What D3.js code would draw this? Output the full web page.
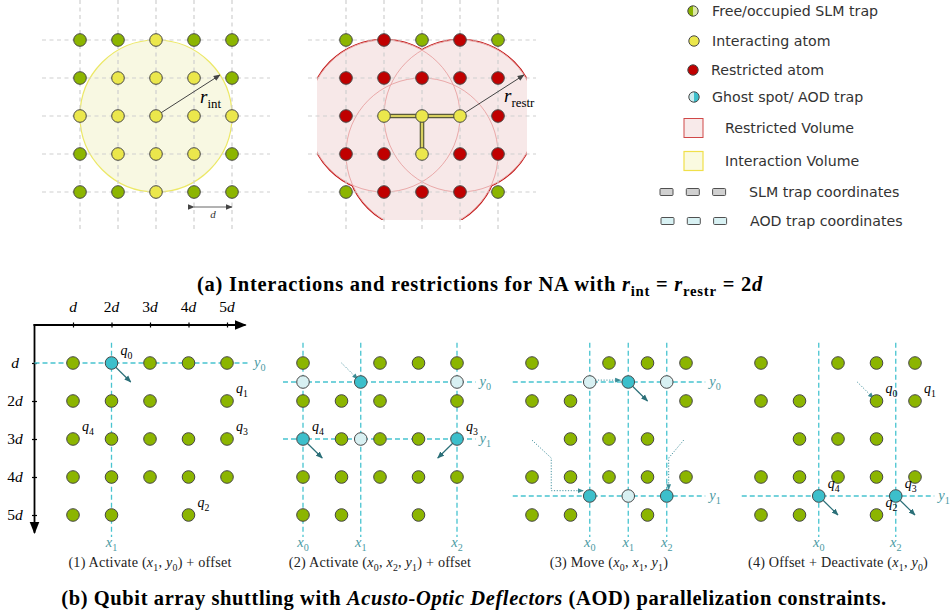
<!DOCTYPE html>
<html><head><meta charset="utf-8">
<script src="https://cdn.jsdelivr.net/npm/d3@7"></script>
<style>body{margin:0;background:#fff}svg{display:block}</style>
</head><body><svg id="c" width="951" height="615"></svg>
<script>
// ---------------- DATA ----------------
// (a) lattice states: G = free/occupied SLM trap, Y = interacting atom, R = restricted atom
const latticeIdx = [0, 1, 2, 3, 4];
const panelA1Rows = ["GGYGG", "GYYYG", "YYYYY", "GYYYG", "GGYGG"];
const panelA2Rows = ["GRGRG", "RRRRR", "RYYYR", "RRYRR", "GRRRG"];
const interactCenter = [2, 2];           // [col,row]
const restrCenters = [[1, 2], [3, 2], [2, 3]];
const gateBonds = [[[1, 2], [3, 2]], [[2, 2], [2, 3]]];
const radiusInD = 2;                      // r_int = r_restr = 2d
const legendLabels = ["Free/occupied SLM trap", "Interacting atom", "Restricted atom", "Ghost spot/ AOD trap",
  "Restricted Volume", "Interaction Volume", "SLM trap coordinates", "AOD trap coordinates"];
// (b) axis tick labels
const axisTickValues = [1, 2, 3, 4, 5];
const axisTickLabels = ["d", "2d", "3d", "4d", "5d"];
// (b) SLM atoms per panel (rows 1..5, cols 1..5; '.' = empty)
const slmRows = [
  ["G.GGG", "GGG.G", "GGGGG", "GGGGG", "GG.G."],
  ["G.GGG", "GGG.G", ".GGG.", "GGGGG", "GG.G."],
  ["G.GGG", "GG..G", ".GGG.", "GGGGG", "GG.G."],
  ["G.GGG", "GG.GG", ".GGG.", "GGGGG", "GG.G."]
];
// AOD columns / rows (grid units) and their names
const aodX = [[2], [1, 2.5, 5], [2.5, 3.5, 4.5], [2.5, 4.5]];
const aodXNames = [["1"], ["0", "1", "2"], ["0", "1", "2"], ["0", "2"]];
const aodY = [[1], [1.5, 3], [1.5, 4.5], [4.5]];
const aodYNames = [["0"], ["0", "1"], ["0", "1"], ["1"]];
const aodActive = [[[2, 1]], [[2.5, 1.5], [1, 3], [5, 3]], [[3.5, 1.5], [2.5, 4.5], [4.5, 4.5]], [[2.5, 4.5], [4.5, 4.5]]];
const aodGhost = [[], [[1, 1.5], [5, 1.5], [2.5, 3]], [[2.5, 1.5], [4.5, 1.5], [3.5, 4.5]], []];
// qubit labels [col,row,index]
const qubitLabels = [
  [[2, 1, 0], [5, 2, 1], [5, 3, 3], [1, 3, 4], [4, 5, 2]],
  [[1, 3, 4], [5, 3, 3]],
  [],
  [[4, 2, 0], [5, 2, 1], [2.5, 4.5, 4], [4.5, 4.5, 3], [4, 5, 2]]
];
// offset arrows (solid) : [from, to] in grid units
const offsetArrows = [
  [[[2, 1], [2.5, 1.5]]],
  [[[1, 3], [1.5, 3.5]], [[5, 3], [4.5, 3.5]]],
  [[[3.5, 1.5], [4, 2]]],
  [[[2.5, 4.5], [3, 5]], [[4.5, 4.5], [5, 5]]]
];
// trajectory arrows (dotted) : polylines in grid units
const moveArrows = [
  [],
  [[[2, 1], [2.42, 1.42]]],
  [[[2.64, 1.45], [3.3, 1.45]], [[1, 3.03], [1.5, 3.5], [1.5, 4.36], [2.33, 4.36]], [[4.94, 3.03], [4.55, 3.5], [4.55, 4.33]]],
  [[[3.5, 1.5], [3.92, 1.92]]]
];
const stepCaptions = [
  [{t: "(1) Activate ("}, {t: "x", i: 1}, {t: "1", s: 1}, {t: ", "}, {t: "y", i: 1}, {t: "0", s: 1}, {t: ") + offset"}],
  [{t: "(2) Activate ("}, {t: "x", i: 1}, {t: "0", s: 1}, {t: ", "}, {t: "x", i: 1}, {t: "2", s: 1}, {t: ", "}, {t: "y", i: 1}, {t: "1", s: 1}, {t: ") + offset"}],
  [{t: "(3) Move ("}, {t: "x", i: 1}, {t: "0", s: 1}, {t: ", "}, {t: "x", i: 1}, {t: "1", s: 1}, {t: ", "}, {t: "y", i: 1}, {t: "1", s: 1}, {t: ")"}],
  [{t: "(4) Offset + Deactivate ("}, {t: "x", i: 1}, {t: "1", s: 1}, {t: ", "}, {t: "y", i: 1}, {t: "0", s: 1}, {t: ")"}]
];

// ---------------- STYLE / LAYOUT ----------------
const SERIF = "'Liberation Serif','DejaVu Serif',serif";
const SANS = "'DejaVu Sans',sans-serif";
const C = {G: "#8cb500", Y: "#ebe74c", R: "#c00000", cyan: "#3cbfcb", ghost: "#d8f0f2", stroke: "#474747",
  aod: "#48c4d0", teal: "#2b6f78", label: "#4a9aa3", grid: "#cfcfcf"};

const svg = d3.select("#c");
const defs = svg.append("defs");
function marker(id, color, size) {
  defs.append("marker").attr("id", id).attr("viewBox", "0 -5 10 10").attr("refX", 9).attr("refY", 0)
    .attr("markerWidth", size).attr("markerHeight", size).attr("orient", "auto").attr("markerUnits", "userSpaceOnUse")
    .append("path").attr("d", "M0,-4L10,0L0,4Z").attr("fill", color);
}
marker("arrTeal", C.teal, 7);
marker("arrDot", "#3b8a94", 6);
marker("arrGray", "#444", 7);
marker("arrBlack", "#000", 12);

function rich(parent, x, y, segs, o) {
  const t = parent.append("text").attr("x", x).attr("y", y)
    .attr("font-family", o.family || SERIF).attr("font-size", o.size)
    .attr("text-anchor", o.anchor || "start").attr("fill", o.fill || "#000")
    .attr("font-weight", o.weight || "normal");
  if (o.ls) t.attr("letter-spacing", o.ls);
  let shift = 0;
  segs.forEach(s => {
    const ts = t.append("tspan").text(s.t);
    if (s.i) ts.attr("font-style", "italic");
    if (s.s) ts.attr("font-size", o.size * (o.subScale || 0.7));
    const want = s.s ? o.size * 0.25 : 0;
    if (want !== shift) { ts.attr("dy", want - shift); shift = want; }
  });
  return t;
}
function atom(g, x, y, fill, r) {
  g.append("circle").attr("cx", x).attr("cy", y).attr("r", r || 6.3).attr("fill", fill)
    .attr("stroke", C.stroke).attr("stroke-width", 1);
}

// ---------------- (a) ----------------
const yA = d3.scaleLinear().domain([0, 4]).range([40, 192]);
const xA1 = d3.scaleLinear().domain([0, 4]).range([80, 232]);
const xA2 = d3.scaleLinear().domain([0, 4]).range([346, 498]);
const rPx = xA1(radiusInD) - xA1(0);

function gridLines(g, xs) {
  g.selectAll(null).data(latticeIdx).join("line")
    .attr("x1", xs(-1)).attr("x2", xs(5)).attr("y1", d => yA(d)).attr("y2", d => yA(d))
    .attr("stroke", C.grid).attr("stroke-width", 1.2).attr("stroke-dasharray", "4,3.5");
  g.selectAll(null).data(latticeIdx).join("line")
    .attr("y1", yA(-1.05)).attr("y2", yA(5)).attr("x1", d => xs(d)).attr("x2", d => xs(d))
    .attr("stroke", C.grid).attr("stroke-width", 1.2).attr("stroke-dasharray", "4,3.5");
}
function lattice(g, xs, rows) {
  rows.forEach((row, r) => row.split("").forEach((ch, c) => atom(g, xs(c), yA(r), C[ch])));
}

// panel a1
const gA1 = svg.append("g");
gA1.append("circle").attr("cx", xA1(interactCenter[0])).attr("cy", yA(interactCenter[1])).attr("r", rPx)
  .attr("fill", "#f8f8e2").attr("stroke", "#ece866").attr("stroke-width", 1.2);
gridLines(gA1, xA1);
gA1.append("line").attr("x1", xA1(2)).attr("y1", yA(2))
  .attr("x2", xA1(2) + rPx * Math.cos(-0.57)).attr("y2", yA(2) + rPx * Math.sin(-0.57))
  .attr("stroke", "#444").attr("stroke-width", 1).attr("marker-end", "url(#arrGray)");
lattice(gA1, xA1, panelA1Rows);
rich(gA1, 200, 103, [{t: "r", i: 1}, {t: "int", s: 1}], {size: 19, subScale: 0.68});
gA1.append("line").attr("x1", xA1(3)).attr("x2", xA1(4)).attr("y1", 207).attr("y2", 207)
  .attr("stroke", "#555").attr("stroke-width", 0.9).attr("marker-end", "url(#arrGray)").attr("marker-start", "url(#arrGray)");
rich(gA1, (xA1(3) + xA1(4)) / 2, 218, [{t: "d", i: 1}], {size: 11, anchor: "middle", fill: "#333"});

// panel a2
const gA2 = svg.append("g");
defs.append("clipPath").attr("id", "restrClip").append("rect")
  .attr("x", xA2(-0.76)).attr("y", 0).attr("width", xA2(4.76) - xA2(-0.76)).attr("height", yA(4.74));
const gR = gA2.append("g").attr("clip-path", "url(#restrClip)");
gR.selectAll(null).data(restrCenters).join("circle")
  .attr("cx", d => xA2(d[0])).attr("cy", d => yA(d[1])).attr("r", rPx)
  .attr("fill", "none").attr("stroke", "#c31a1a").attr("stroke-width", 2.6);
gR.selectAll(null).data(restrCenters).join("circle")
  .attr("cx", d => xA2(d[0])).attr("cy", d => yA(d[1])).attr("r", rPx).attr("fill", "#f7e8e8");
gR.selectAll(null).data(restrCenters).join("circle")
  .attr("cx", d => xA2(d[0])).attr("cy", d => yA(d[1])).attr("r", rPx)
  .attr("fill", "none").attr("stroke", "#eaa9a9").attr("stroke-width", 1);
gridLines(gA2, xA2);
gateBonds.forEach(b => {
  gA2.append("line").attr("x1", xA2(b[0][0])).attr("y1", yA(b[0][1])).attr("x2", xA2(b[1][0])).attr("y2", yA(b[1][1]))
    .attr("stroke", "#5a5a3a").attr("stroke-width", 4.6);
});
gateBonds.forEach(b => {
  gA2.append("line").attr("x1", xA2(b[0][0])).attr("y1", yA(b[0][1])).attr("x2", xA2(b[1][0])).attr("y2", yA(b[1][1]))
    .attr("stroke", "#d8d060").attr("stroke-width", 2.2);
});
gA2.append("line").attr("x1", xA2(3)).attr("y1", yA(2))
  .attr("x2", xA2(3) + rPx * Math.cos(-0.57)).attr("y2", yA(2) + rPx * Math.sin(-0.57))
  .attr("stroke", "#444").attr("stroke-width", 1).attr("marker-end", "url(#arrGray)");
lattice(gA2, xA2, panelA2Rows);
rich(gA2, 504, 102, [{t: "r", i: 1}, {t: "restr", s: 1}], {size: 19, subScale: 0.68});

// legend
const gL = svg.append("g");
const legY = [11, 41, 70, 97, 128, 161, 192, 221];
const legX = [712, 712, 711, 712, 725, 725, 749, 750];
gL.selectAll(null).data(legendLabels).join("text")
  .attr("x", (d, i) => legX[i]).attr("y", (d, i) => legY[i]).attr("dy", "0.35em")
  .attr("font-family", SANS).attr("font-size", 14.2).attr("fill", "#333").text(d => d);
function halfCircle(cx, cy, left, right) {
  const r = 5.2;
  gL.append("path").attr("d", `M${cx},${cy - r}A${r},${r} 0 0 0 ${cx},${cy + r}Z`).attr("fill", left);
  gL.append("path").attr("d", `M${cx},${cy - r}A${r},${r} 0 0 1 ${cx},${cy + r}Z`).attr("fill", right);
  gL.append("circle").attr("cx", cx).attr("cy", cy).attr("r", r).attr("fill", "none").attr("stroke", C.stroke).attr("stroke-width", 1);
}
halfCircle(693, legY[0], C.G, "#dde8a8");
atom(gL, 694, legY[1], C.Y, 5.2);
atom(gL, 693, legY[2], C.R, 5.2);
halfCircle(694, legY[3], "#c9ecef", C.cyan);
gL.append("rect").attr("x", 684).attr("y", legY[4] - 9.5).attr("width", 19).attr("height", 19)
  .attr("fill", "#f8eaea").attr("stroke", "#d04848").attr("stroke-width", 1);
gL.append("rect").attr("x", 684).attr("y", legY[5] - 9.5).attr("width", 19).attr("height", 19)
  .attr("fill", "#fafae0").attr("stroke", "#f0e04a").attr("stroke-width", 1.2);
[0, 1, 2].forEach(k => {
  gL.append("rect").attr("x", 660 + k * 26.3).attr("y", legY[6] - 3.5).attr("width", 13).attr("height", 7).attr("rx", 1)
    .attr("fill", "#d0d0d0").attr("stroke", "#505050").attr("stroke-width", 1);
  gL.append("rect").attr("x", 661 + k * 26.3).attr("y", legY[7] - 3.5).attr("width", 13).attr("height", 7).attr("rx", 1)
    .attr("fill", "#d8f1f3").attr("stroke", "#505050").attr("stroke-width", 1);
});

// caption (a)
rich(svg, 480, 291, [{t: "(a) Interactions and restrictions for NA with "}, {t: "r", i: 1}, {t: "int", s: 1},
  {t: " = "}, {t: "r", i: 1}, {t: "restr", s: 1}, {t: " = 2"}, {t: "d", i: 1}],
  {size: 20.5, anchor: "middle", weight: "bold", subScale: 0.72, ls: 0.75});

// ---------------- (b) ----------------
const yB = d3.scaleLinear().domain([1, 5]).range([363, 515]);
const panelStarts = [73, 303, 532, 761];
const xB = panelStarts.map(s => d3.scaleLinear().domain([1, 5]).range([s, s + 154]));
const hLineExt = [[0, 5.6], [0.48, 5.48], [0.5, 5.5], [0.5, 5.5]];

// axes of panel 1
const gAx = svg.append("g");
const axTop = gAx.append("g").attr("transform", `translate(0,${yB(0)})`)
  .call(d3.axisTop(xB[0]).tickValues(axisTickValues).tickSize(2.5).tickFormat(""));
axTop.select(".domain").remove();
axTop.selectAll(".tick line").attr("y2", 2.5).attr("y1", -2.5).attr("stroke", "#000").attr("stroke-width", 1.2);
const axLeft = gAx.append("g").attr("transform", `translate(${xB[0](0)},0)`)
  .call(d3.axisLeft(yB).tickValues(axisTickValues).tickSize(2.5).tickFormat(""));
axLeft.select(".domain").remove();
axLeft.selectAll(".tick line").attr("x2", 2.5).attr("x1", -2.5).attr("stroke", "#000").attr("stroke-width", 1.2);
gAx.append("line").attr("x1", xB[0](0) - 1).attr("x2", xB[0](5.48)).attr("y1", yB(0)).attr("y2", yB(0))
  .attr("stroke", "#000").attr("stroke-width", 1.8).attr("marker-end", "url(#arrBlack)");
gAx.append("line").attr("x1", xB[0](0)).attr("x2", xB[0](0)).attr("y1", yB(0) - 1).attr("y2", yB(5.47))
  .attr("stroke", "#000").attr("stroke-width", 1.8).attr("marker-end", "url(#arrBlack)");
function tickLab(d) { return d.length > 1 ? [{t: d.slice(0, -1)}, {t: "d", i: 1}] : [{t: "d", i: 1}]; }
axisTickValues.forEach((v, i) => {
  rich(gAx, xB[0](v), 312, tickLab(axisTickLabels[i]), {size: 15.5, anchor: "middle"});
  rich(gAx, 15, yB(v) + 5, tickLab(axisTickLabels[i]), {size: 15.5, anchor: "middle"});
});

// panels
for (let p = 0; p < 4; p++) {
  const g = svg.append("g");
  const x = xB[p];
  // AOD dashed lines
  g.selectAll(null).data(aodX[p]).join("line")
    .attr("x1", d => x(d)).attr("x2", d => x(d)).attr("y1", yB(0.47)).attr("y2", yB(5.58))
    .attr("stroke", C.aod).attr("stroke-width", 1.3).attr("stroke-dasharray", "5,3");
  g.selectAll(null).data(aodY[p]).join("line")
    .attr("y1", d => yB(d)).attr("y2", d => yB(d)).attr("x1", x(hLineExt[p][0])).attr("x2", x(hLineExt[p][1]))
    .attr("stroke", C.aod).attr("stroke-width", 1.3).attr("stroke-dasharray", "5,3");
  // names
  aodX[p].forEach((v, i) => rich(g, x(v), 547, [{t: "x", i: 1}, {t: aodXNames[p][i], s: 1}], {size: 14.5, anchor: "middle", fill: C.label}));
  aodY[p].forEach((v, i) => rich(g, x(hLineExt[p][1]) + 4, yB(v) + 4, [{t: "y", i: 1}, {t: aodYNames[p][i], s: 1}], {size: 14.5, fill: C.label}));
  // dotted move arrows
  moveArrows[p].forEach(pl => {
    g.append("path").attr("d", d3.line().x(d => x(d[0])).y(d => yB(d[1]))(pl))
      .attr("fill", "none").attr("stroke", "#4a94a0").attr("stroke-width", 1).attr("stroke-dasharray", "1.2,1.6")
      .attr("marker-end", "url(#arrDot)");
  });
  // SLM atoms
  slmRows[p].forEach((row, r) => row.split("").forEach((ch, c) => { if (ch !== ".") atom(g, x(c + 1), yB(r + 1), C[ch]); }));
  // ghosts and active
  aodGhost[p].forEach(d => atom(g, x(d[0]), yB(d[1]), C.ghost));
  // offset arrows
  offsetArrows[p].forEach(a => {
    g.append("line").attr("x1", x(a[0][0])).attr("y1", yB(a[0][1])).attr("x2", x(a[1][0])).attr("y2", yB(a[1][1]))
      .attr("stroke", C.teal).attr("stroke-width", 1.2).attr("marker-end", "url(#arrTeal)");
  });
  aodActive[p].forEach(d => atom(g, x(d[0]), yB(d[1]), C.cyan));
  // qubit labels
  qubitLabels[p].forEach(q => rich(g, x(q[0]) + 9, yB(q[1]) - 8, [{t: "q", i: 1}, {t: String(q[2]), s: 1}], {size: 14}));
  // caption
  rich(g, x(3), 567, stepCaptions[p], {size: 14.2, anchor: "middle", fill: "#222", ls: 0.2});
}

// caption (b)
rich(svg, 474, 605, [{t: "(b) Qubit array shuttling with "}, {t: "Acusto-Optic Deflectors", i: 1},
  {t: " (AOD) parallelization constraints."}], {size: 20.5, anchor: "middle", weight: "bold", ls: 0.6});
</script></body></html>
